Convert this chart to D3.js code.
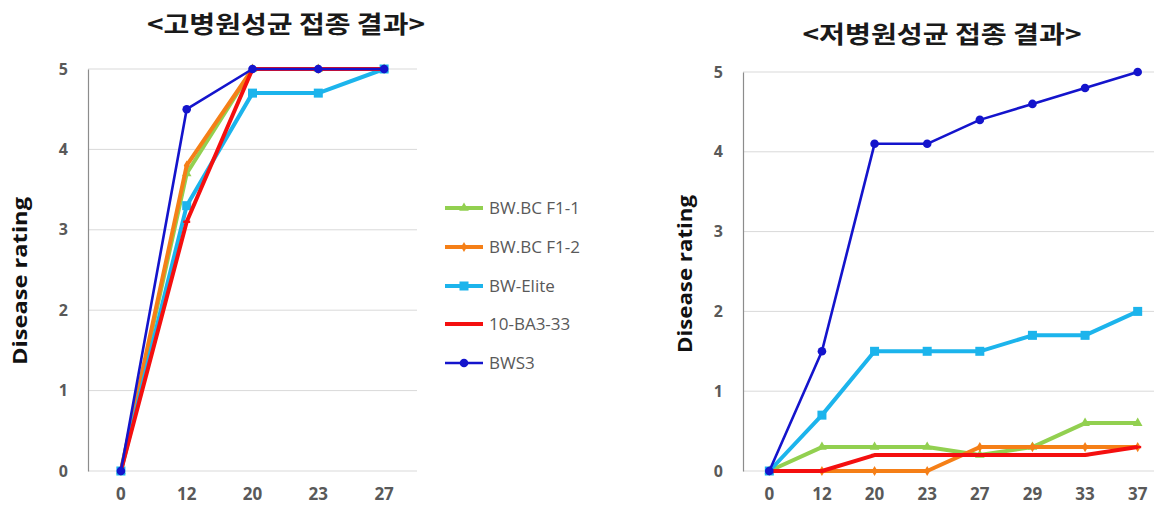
<!DOCTYPE html>
<html>
<head>
<meta charset="utf-8">
<script src="https://cdn.jsdelivr.net/npm/d3@7"></script>
<style>
  html, body { margin: 0; padding: 0; background: #fff; }
  svg { display: block; }
</style>
</head>
<body>
<svg id="chart" width="1154" height="511"></svg>
<script>
// Inoculation days (categories)
const daysHigh = ["0", "12", "20", "23", "27"];
const daysLow = ["0", "12", "20", "23", "27", "29", "33", "37"];

// Rating axis ticks
const ratingTicks = [0, 1, 2, 3, 4, 5];

// Line names (legend order)
const lineNames = ["BW.BC F1-1", "BW.BC F1-2", "BW-Elite", "10-BA3-33", "BWS3"];

// High-virulence strain inoculation results
const highF1_1 = [0, 3.7, 5, 5, 5];
const highF1_2 = [0, 3.8, 5, 5, 5];
const highElite = [0, 3.3, 4.7, 4.7, 5];
const highBA3 = [0, 3.1, 5, 5, 5];
const highBWS3 = [0, 4.5, 5, 5, 5];

// Low-virulence strain inoculation results
const lowF1_1 = [0, 0.3, 0.3, 0.3, 0.2, 0.3, 0.6, 0.6];
const lowF1_2 = [0, 0, 0, 0, 0.3, 0.3, 0.3, 0.3];
const lowElite = [0, 0.7, 1.5, 1.5, 1.5, 1.7, 1.7, 2.0];
const lowBA3 = [0, 0, 0.2, 0.2, 0.2, 0.2, 0.2, 0.3];
const lowBWS3 = [0, 1.5, 4.1, 4.1, 4.4, 4.6, 4.8, 5.0];

const titleHigh = "<고병원성균 접종 결과>";
const titleLow = "<저병원성균 접종 결과>";
const yTitle = "Disease rating";

// Visual style per line
const styles = [
  { color: "#92D050", width: 4, marker: "triangle" },
  { color: "#F57F17", width: 4, marker: "diamond" },
  { color: "#1CB4EC", width: 4, marker: "square" },
  { color: "#F40F0F", width: 4, marker: "dash" },
  { color: "#1414CC", width: 2.6, marker: "circle" }
];

const svg = d3.select("#chart");
const tickColor = "#595959";

function drawMarker(g, x, y, st) {
  if (st.marker === "circle") {
    g.append("circle").attr("cx", x).attr("cy", y).attr("r", 4.3).attr("fill", st.color);
  } else if (st.marker === "square") {
    g.append("rect").attr("x", x - 4.5).attr("y", y - 4.5).attr("width", 9).attr("height", 9).attr("fill", st.color);
  } else if (st.marker === "triangle") {
    g.append("path").attr("transform", `translate(${x},${y})`)
      .attr("d", d3.symbol().type(d3.symbolTriangle).size(40)()).attr("fill", st.color);
  } else if (st.marker === "diamond") {
    g.append("path").attr("transform", `translate(${x},${y})`)
      .attr("d", d3.symbol().type(d3.symbolDiamond).size(30)()).attr("fill", st.color);
  } else if (st.marker === "dash") {
    g.append("rect").attr("x", x - 3.5).attr("y", y - 1.2).attr("width", 7).attr("height", 2.4).attr("fill", st.color);
  }
}

function drawPanel(opts) {
  const { days, series, left, right, top, bottom, title, titleX, titleY, titleLen, yTitleX, yTitleY, yTitleLen } = opts;
  const x = d3.scaleBand().domain(days).range([left, right]);
  const y = d3.scaleLinear().domain([0, 5]).range([bottom, top]);
  const g = svg.append("g");

  // Horizontal gridlines
  g.append("g").selectAll("line").data(ratingTicks).join("line")
    .attr("x1", left).attr("x2", right)
    .attr("y1", d => y(d)).attr("y2", d => y(d))
    .attr("stroke", "#d9d9d9").attr("stroke-width", 1);

  // Value axis
  const yAxis = g.append("g").attr("transform", `translate(${left},0)`)
    .call(d3.axisLeft(y).tickValues(ratingTicks).tickFormat(d3.format("d")).tickSize(0).tickPadding(20));
  yAxis.select(".domain").attr("stroke", "#8c8c8c").attr("stroke-width", 1.2);
  yAxis.selectAll("text").attr("font-family", "'Open Sans', 'Liberation Sans', sans-serif")
    .attr("font-weight", "bold").attr("font-size", 16).attr("fill", tickColor);

  // Category axis
  const xAxis = g.append("g").attr("transform", `translate(0,${bottom})`)
    .call(d3.axisBottom(x).tickSize(0).tickPadding(17));
  xAxis.select(".domain").remove();
  xAxis.selectAll("text").attr("font-family", "'Open Sans', 'Liberation Sans', sans-serif")
    .attr("font-weight", "bold").attr("font-size", 17).attr("fill", tickColor);

  // Lines and markers
  const line = d3.line().x((d, i) => x(days[i]) + x.bandwidth() / 2).y(d => y(d));
  series.forEach((vals, si) => {
    const st = styles[si];
    g.append("path").datum(vals).attr("d", line)
      .attr("fill", "none").attr("stroke", st.color).attr("stroke-width", st.width)
      .attr("stroke-linejoin", "round");
    const mg = g.append("g");
    vals.forEach((v, i) => drawMarker(mg, x(days[i]) + x.bandwidth() / 2, y(v), st));
  });

  // Chart title
  svg.append("text").attr("x", titleX).attr("y", titleY).attr("text-anchor", "middle")
    .attr("font-family", "'Noto Sans CJK KR', sans-serif").attr("font-weight", "bold")
    .attr("font-size", 24).attr("fill", "#1a1a1a")
    .attr("textLength", titleLen).attr("lengthAdjust", "spacingAndGlyphs")
    .text(title);

  // Value axis title
  svg.append("text").attr("transform", `translate(${yTitleX},${yTitleY}) rotate(-90)`)
    .attr("text-anchor", "middle")
    .attr("font-family", "'Open Sans', 'Liberation Sans', sans-serif").attr("font-weight", "bold")
    .attr("font-size", 20).attr("fill", "#111")
    .attr("textLength", yTitleLen).attr("lengthAdjust", "spacingAndGlyphs")
    .text(yTitle);
}

drawPanel({
  days: daysHigh,
  series: [highF1_1, highF1_2, highElite, highBA3, highBWS3],
  left: 88, right: 417, top: 69, bottom: 471,
  title: titleHigh, titleX: 286, titleY: 33, titleLen: 278,
  yTitleX: 27, yTitleY: 281, yTitleLen: 168
});

drawPanel({
  days: daysLow,
  series: [lowF1_1, lowF1_2, lowElite, lowBA3, lowBWS3],
  left: 743, right: 1164, top: 72, bottom: 471,
  title: titleLow, titleX: 942, titleY: 43, titleLen: 279,
  yTitleX: 692, yTitleY: 274, yTitleLen: 158
});

// Legend
const legend = svg.append("g");
const legendRows = [208, 247, 286, 324, 363];
lineNames.forEach((name, i) => {
  const st = styles[i];
  const yy = legendRows[i];
  legend.append("line").attr("x1", 445).attr("x2", 483).attr("y1", yy).attr("y2", yy)
    .attr("stroke", st.color).attr("stroke-width", st.width);
  drawMarker(legend, 464, yy, st);
  legend.append("text").attr("x", 489).attr("y", yy + 6)
    .attr("font-family", "'Open Sans', 'Liberation Sans', sans-serif")
    .attr("font-size", 17).attr("fill", tickColor).text(name);
});
</script>
</body>
</html>
